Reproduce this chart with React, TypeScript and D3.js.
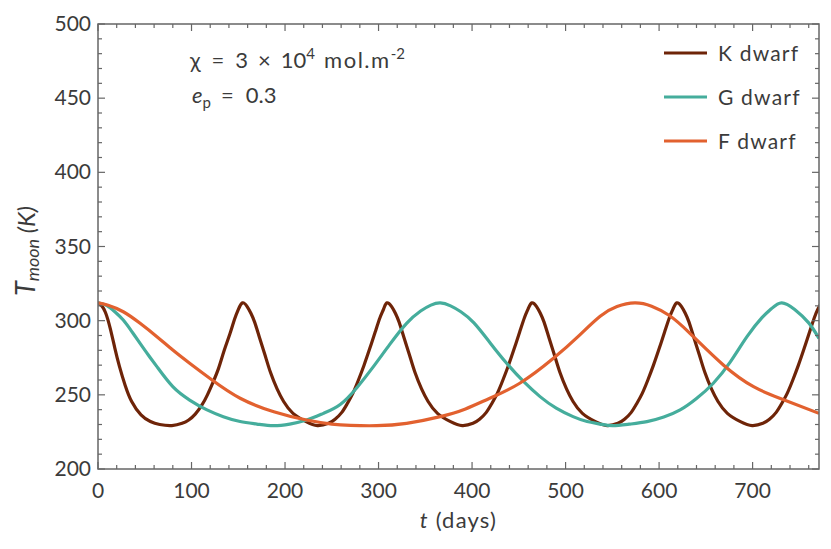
import { useMemo } from "react";
import * as d3 from "d3";

// values: [t (days), T_moon (K)]
const kDwarf: [number, number][] = [
  [0, 312], [4, 310], [8, 305.5], [13, 295], [18, 281.5], [23, 269], [29, 256.5], [36, 245.5],
  [46, 236.5], [56, 232], [66, 230], [79, 229.3], [90, 230.8], [97, 233], [104, 237], [111, 243],
  [117, 250], [123, 258.5], [129, 268], [135, 280], [141, 291], [146, 301], [150, 307.5], [154.5, 312],
  [159.5, 309.5], [163.5, 305], [167.5, 299], [172.5, 289], [178.5, 277], [184.5, 265], [191.5, 254],
  [198.5, 245.5], [208.5, 237.5], [222.5, 231.9], [234.5, 229.3], [246.5, 230.8], [253.5, 233.5],
  [260.5, 238], [266.5, 244], [272.5, 251], [278.5, 260], [284.5, 270], [290.5, 281], [296.5, 292.5],
  [301.5, 302], [305.5, 308], [309, 312],
  [314, 309.5], [318, 305], [322, 299], [327, 289], [333, 277], [339, 265], [346, 254], [353, 245.5],
  [363, 237.5], [377, 231.9], [389.5, 229.3], [401, 230.8], [408, 233.5], [415, 238], [421, 244],
  [427, 251], [433, 260], [439, 270], [445, 281], [451, 292.5], [456, 302], [460, 308], [464, 312],
  [469, 309.5], [473, 305], [477, 299], [482, 289], [488, 277], [494, 265], [501, 254], [508, 245.5],
  [518, 237.5], [532, 231.9], [544.5, 229.3], [556, 230.8], [563, 233.5], [570, 238], [576, 244],
  [582, 251], [588, 260], [594, 270], [600, 281], [606, 292.5], [611, 302], [615, 308], [619, 312],
  [624, 309.5], [628, 305], [632, 299], [637, 289], [643, 277], [649, 265], [656, 254], [663, 245.5],
  [673, 237.5], [687, 231.9], [699.5, 229.3], [711, 230.8], [718, 233.5], [725, 238], [731, 244],
  [737, 251], [743, 260], [749, 270], [755, 281], [761, 292.5], [766, 302], [770, 308], [773.5, 312],
];

const gDwarf: [number, number][] = [
  [0, 312], [9, 310.3], [18, 306], [27, 300.4], [36, 292.8], [45, 284.7], [54, 276.7], [63, 269],
  [80, 255.5], [98, 246.5], [116, 240], [134, 235.3], [152, 232], [170, 230.3], [187.5, 229.2],
  [205, 230.3], [223, 233], [241, 237.5], [259, 243.5], [277, 255], [294.5, 269], [312, 284],
  [330, 298.2], [345, 306.5], [356, 310.5], [366, 312], [377, 310], [388, 306], [402, 298.5],
  [420, 284.5], [437, 271.3], [455, 259], [472.7, 248.8], [490, 241], [508, 235.3], [523, 232],
  [537, 230.3], [550, 229.2], [568, 230.2], [587, 231.9], [605, 235], [622.5, 239.8], [640, 247.5],
  [658, 257.8], [676, 272], [694, 289.2], [710, 302], [720, 308], [731, 312], [745, 307.5],
  [760, 298.5], [771, 288],
];

const fDwarf: [number, number][] = [
  [0, 312], [10, 310.5], [27, 306], [45, 298.2], [63, 289.2], [80, 280.2], [98, 271.3], [122, 260],
  [152, 247.7], [188, 238.6], [223, 233], [250, 230.3], [270, 229.4], [298, 229.2], [330, 230.8],
  [366, 235.3], [393, 240.5], [419, 247.7], [451, 257.8], [487, 274.6], [515, 290.3], [537, 303],
  [555, 309.5], [574, 312], [592, 309.8], [611, 303.5], [633, 291.5], [669, 270], [701, 255.5],
  [729, 247.7], [771, 237.5],
];

const seriesNames = ["K dwarf", "G dwarf", "F dwarf"];
const seriesColors = ["#6e2408", "#45ad9c", "#e2612f"];
const xTicks = [0, 100, 200, 300, 400, 500, 600, 700];
const yTicks = [200, 250, 300, 350, 400, 450, 500];

const W = 831;
const H = 549;
const margin = { left: 98, right: 12, top: 24, bottom: 80 };
const font = "Lato, 'Open Sans', sans-serif";
const textColor = "#3b3b3b";
const axisColor = "#666";

export default function App() {
  const x = useMemo(() => d3.scaleLinear().domain([0, 771]).range([margin.left, W - margin.right]), []);
  const y = useMemo(() => d3.scaleLinear().domain([200, 500]).range([H - margin.bottom, margin.top]), []);

  const line = d3
    .line<[number, number]>()
    .x((d) => x(d[0]))
    .y((d) => y(d[1]))
    .curve(d3.curveNatural);

  const x0 = x.range()[0], x1 = x.range()[1];
  const y0 = y.range()[0], y1 = y.range()[1];

  const xMinor = d3.range(0, 771, 20).filter((v) => v % 100 !== 0);
  const yMinor = d3.range(200, 500, 10).filter((v) => v % 50 !== 0);

  const all = [kDwarf, gDwarf, fDwarf];

  return (
    <svg width={W} height={H} style={{ position: "absolute", left: 0, top: 0, background: "#fff" }} fontFamily={font}>
      <defs>
        <clipPath id="plot">
          <rect x={x0} y={y1} width={x1 - x0} height={y0 - y1} />
        </clipPath>
      </defs>

      <g clipPath="url(#plot)">
        {all.map((s, i) => (
          <path key={i} d={line(s) || ""} fill="none" stroke={seriesColors[i]} strokeWidth={3.2} />
        ))}
      </g>

      {/* ticks, inward on all four sides */}
      <g stroke={axisColor} strokeWidth={1.2}>
        {xTicks.map((v) => (
          <g key={"xt" + v}>
            <line x1={x(v)} x2={x(v)} y1={y0} y2={y0 - 7} />
            <line x1={x(v)} x2={x(v)} y1={y1} y2={y1 + 7} />
          </g>
        ))}
        {xMinor.map((v) => (
          <g key={"xm" + v}>
            <line x1={x(v)} x2={x(v)} y1={y0} y2={y0 - 4} />
            <line x1={x(v)} x2={x(v)} y1={y1} y2={y1 + 4} />
          </g>
        ))}
        {yTicks.map((v) => (
          <g key={"yt" + v}>
            <line x1={x0} x2={x0 + 7} y1={y(v)} y2={y(v)} />
            <line x1={x1} x2={x1 - 7} y1={y(v)} y2={y(v)} />
          </g>
        ))}
        {yMinor.map((v) => (
          <g key={"ym" + v}>
            <line x1={x0} x2={x0 + 4} y1={y(v)} y2={y(v)} />
            <line x1={x1} x2={x1 - 4} y1={y(v)} y2={y(v)} />
          </g>
        ))}
      </g>
      <rect x={x0} y={y1} width={x1 - x0} height={y0 - y1} fill="none" stroke={axisColor} strokeWidth={1.5} />

      <g fill={textColor} fontSize={21}>
        {xTicks.map((v) => (
          <text key={"xl" + v} x={x(v)} y={y0 + 29} textAnchor="middle">{v}</text>
        ))}
        {yTicks.map((v) => (
          <text key={"yl" + v} x={x0 - 7} y={y(v) + 7} textAnchor="end">{v}</text>
        ))}
      </g>

      <text x={(x0 + x1) / 2} y={528} textAnchor="middle" fill={textColor} fontSize={22} letterSpacing={1.2}>
        <tspan fontStyle="italic">t</tspan> (days)
      </text>
      <text
        transform={`translate(35, 251) rotate(-90)`}
        textAnchor="middle"
        fill={textColor}
        fontStyle="italic"
      >
        <tspan fontSize={27}>T</tspan>
        <tspan fontSize={18} dy={4}>moon</tspan>
        <tspan fontSize={24} dy={-4}> (K)</tspan>
      </text>

      {/* annotation */}
      <g fill={textColor} fontSize={22}>
        <text x={190} y={68}>
          χ<tspan dx={11}>=</tspan>
          <tspan dx={11}>3</tspan>
          <tspan dx={10}>×</tspan>
          <tspan dx={10}>10</tspan>
          <tspan fontSize={15} dy={-9}>4</tspan>
          <tspan dy={9} dx={9} letterSpacing={1.5}>mol.m</tspan>
          <tspan fontSize={15} dy={-9}>-2</tspan>
        </text>
        <text x={192} y={103}>
          <tspan fontStyle="italic">e</tspan>
          <tspan fontSize={15} dy={5}>p</tspan>
          <tspan dy={-5} dx={10}>=</tspan>
          <tspan dx={12}>0.3</tspan>
        </text>
      </g>

      {/* legend */}
      {seriesNames.map((n, i) => (
        <g key={n}>
          <line x1={664} x2={707} y1={53 + i * 44} y2={53 + i * 44} stroke={seriesColors[i]} strokeWidth={3.2} />
          <text x={718} y={61 + i * 44} fill={textColor} fontSize={21} letterSpacing={1.2}>{n}</text>
        </g>
      ))}
    </svg>
  );
}
